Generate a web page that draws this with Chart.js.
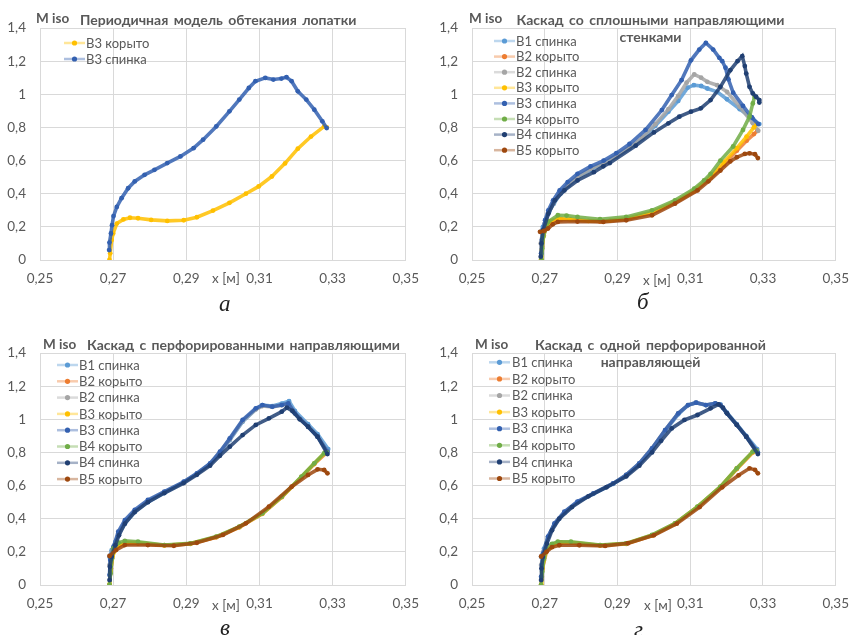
<!DOCTYPE html>
<html>
<head>
<meta charset="utf-8">
<script src="https://cdn.jsdelivr.net/npm/chart.js@4.4.1/dist/chart.umd.min.js"></script>
<style>
    body { margin: 0; background: #fff; width: 860px; height: 635px; position: relative; overflow: hidden; }
    canvas { position: absolute; }
    .txt { position: absolute; white-space: nowrap; color: #595959; font-family: Lato, "Open Sans", sans-serif; line-height: 17px; }
    .miso { font-weight: bold; font-size: 13.5px; }
    .title { font-weight: bold; font-size: 14px; word-spacing: 2px; }
    .center { text-align: center; }
    .xlab { font-size: 13.5px; }
    .cap { position: absolute; font-family: "Liberation Serif", "DejaVu Serif", serif; font-style: italic; font-size: 23px; color: #222; line-height: 24px; }
</style>
</head>
<body>

<canvas id="chartA" width="430" height="300" style="left:0;top:0"></canvas>
<canvas id="chartB" width="430" height="300" style="left:430px;top:0"></canvas>
<canvas id="chartV" width="430" height="305" style="left:0;top:320px"></canvas>
<canvas id="chartG" width="430" height="305" style="left:430px;top:320px"></canvas>

<div class="txt miso" style="left:36px;top:10px">M iso</div>
<div class="txt title" style="left:80px;top:11px">Периодичная модель обтекания лопатки</div>
<div class="txt miso" style="left:469px;top:10px">M iso</div>
<div class="txt title center" style="left:450px;width:401px;top:11px">Каскад со сплошными направляющими<br>стенками</div>
<div class="txt miso" style="left:43px;top:336px">M iso</div>
<div class="txt title" style="left:87px;top:336px">Каскад с перфорированными направляющими</div>
<div class="txt miso" style="left:475px;top:336px">M iso</div>
<div class="txt title center" style="left:450px;width:401px;top:336px">Каскад с одной перфорированной<br>направляющей</div>

<div class="txt xlab" style="left:212px;top:270px">x [м]</div>
<div class="txt xlab" style="left:643px;top:272px">x [м]</div>
<div class="txt xlab" style="left:212px;top:597px">x [м]</div>
<div class="txt xlab" style="left:644px;top:597px">x [м]</div>

<div class="cap" style="left:219px;top:292px">а</div>
<div class="cap" style="left:637px;top:290px">б</div>
<div class="cap" style="left:220px;top:616px">в</div>
<div class="cap" style="left:634px;top:618px">г</div>

<script>
// ---- tick labels ----
const xTickLabels = ["0,25", "0,27", "0,29", "0,31", "0,33", "0,35"];
const yTickLabels = ["0", "0,2", "0,4", "0,6", "0,8", "1", "1,2", "1,4"];

// ---- series names / colours ----
const namesA = ["В3 корыто", "В3 спинка"];
const colorsA = ["#ffc000", "#3360b0"];
const namesFull = ["В1 спинка", "В2 корыто", "В2 спинка", "В3 корыто", "В3 спинка", "В4 корыто", "В4 спинка", "В5 корыто"];
const colorsFull = ["#5b9bd5", "#ed7d31", "#a5a5a5", "#ffc000", "#3360b0", "#70ad47", "#203f72", "#9e480e"];

// ---- (а) periodic model: [x, Miso] ----
const aB3Korito = [[0.2690,0.00],[0.2692,0.04],[0.2696,0.12],[0.2700,0.16],[0.2710,0.22],[0.2728,0.245],[0.2746,0.255],[0.2768,0.252],[0.2804,0.242],[0.2848,0.236],[0.2893,0.240],[0.2929,0.258],[0.2973,0.298],[0.3018,0.345],[0.3063,0.400],[0.3098,0.444],[0.3134,0.504],[0.3170,0.583],[0.3205,0.672],[0.3241,0.745],[0.3277,0.806],[0.3284,0.80]];
const aB3Spinka = [[0.2689,0.06],[0.2690,0.105],[0.2694,0.16],[0.2697,0.21],[0.2701,0.265],[0.2710,0.32],[0.2723,0.373],[0.2741,0.433],[0.2759,0.474],[0.2786,0.514],[0.2813,0.544],[0.2848,0.585],[0.2884,0.625],[0.2920,0.675],[0.2946,0.726],[0.2982,0.806],[0.3018,0.897],[0.3045,0.968],[0.3071,1.038],[0.3089,1.079],[0.3116,1.099],[0.3138,1.089],[0.3160,1.095],[0.3174,1.103],[0.3188,1.079],[0.3205,1.018],[0.3228,0.968],[0.3250,0.907],[0.3272,0.837],[0.3284,0.796]];

// ---- (б) solid guide walls ----
const bB1Spinka = [[0.2689,0.17],[0.2695,0.20],[0.2702,0.24],[0.2712,0.29],[0.2725,0.34],[0.2743,0.40],[0.2765,0.45],[0.2792,0.50],[0.2826,0.545],[0.2862,0.58],[0.2897,0.625],[0.2933,0.675],[0.2969,0.735],[0.3004,0.81],[0.3040,0.895],[0.3067,0.96],[0.3093,1.04],[0.3110,1.055],[0.3130,1.05],[0.3147,1.035],[0.3174,1.015],[0.3201,0.97],[0.3236,0.91],[0.3272,0.85],[0.3290,0.82]];
const bB2Korito = [[0.2690,0.00],[0.2693,0.08],[0.2697,0.15],[0.2705,0.20],[0.2720,0.235],[0.2745,0.245],[0.2790,0.24],[0.2852,0.232],[0.2924,0.245],[0.2995,0.285],[0.3058,0.345],[0.3111,0.415],[0.3156,0.495],[0.3192,0.575],[0.3228,0.66],[0.3255,0.72],[0.3275,0.76],[0.3285,0.78]];
const bB2Spinka = [[0.2689,0.10],[0.2693,0.16],[0.2700,0.22],[0.2710,0.28],[0.2723,0.34],[0.2741,0.40],[0.2763,0.455],[0.2790,0.50],[0.2826,0.55],[0.2862,0.585],[0.2897,0.63],[0.2933,0.68],[0.2969,0.74],[0.3004,0.82],[0.3040,0.91],[0.3067,0.99],[0.3090,1.07],[0.3111,1.12],[0.3130,1.10],[0.3147,1.075],[0.3174,1.055],[0.3201,1.015],[0.3236,0.925],[0.3272,0.825],[0.3287,0.78]];
const bB3Korito = [[0.2690,0.00],[0.2692,0.06],[0.2696,0.14],[0.2703,0.20],[0.2715,0.235],[0.2736,0.25],[0.2770,0.245],[0.2820,0.236],[0.2880,0.238],[0.2924,0.25],[0.2995,0.29],[0.3058,0.35],[0.3111,0.42],[0.3156,0.505],[0.3192,0.59],[0.3228,0.675],[0.3255,0.745],[0.3275,0.80],[0.3283,0.82]];
const bB3Spinka = [[0.2690,0.04],[0.2692,0.12],[0.2695,0.18],[0.2701,0.24],[0.2710,0.30],[0.2723,0.36],[0.2741,0.42],[0.2763,0.47],[0.2790,0.52],[0.2826,0.565],[0.2862,0.60],[0.2897,0.645],[0.2933,0.70],[0.2977,0.785],[0.3022,0.905],[0.3049,0.995],[0.3076,1.085],[0.3102,1.205],[0.3125,1.27],[0.3143,1.31],[0.3163,1.27],[0.3180,1.22],[0.3188,1.20],[0.3197,1.16],[0.3205,1.09],[0.3218,1.01],[0.3245,0.93],[0.3270,0.86],[0.3287,0.82]];
const bB4Korito = [[0.2691,0.00],[0.2693,0.07],[0.2696,0.14],[0.2709,0.23],[0.2736,0.27],[0.2760,0.268],[0.2790,0.26],[0.2852,0.246],[0.2924,0.26],[0.2995,0.30],[0.3058,0.36],[0.3111,0.43],[0.3138,0.48],[0.3156,0.52],[0.3183,0.60],[0.3218,0.685],[0.3245,0.785],[0.3263,0.865],[0.3272,0.945],[0.3277,0.985]];
const bB4Spinka = [[0.2689,0.02],[0.2691,0.10],[0.2696,0.18],[0.2710,0.28],[0.2728,0.36],[0.2754,0.42],[0.2790,0.48],[0.2835,0.53],[0.2861,0.565],[0.2879,0.585],[0.2950,0.69],[0.3000,0.77],[0.3040,0.825],[0.3070,0.865],[0.3102,0.895],[0.3129,0.915],[0.3156,0.965],[0.3183,1.045],[0.3210,1.145],[0.3230,1.20],[0.3243,1.23],[0.3250,1.17],[0.3254,1.125],[0.3263,1.045],[0.3272,1.005],[0.3281,0.985],[0.3290,0.965],[0.3290,0.95]];
const bB5Korito = [[0.2687,0.17],[0.2698,0.175],[0.2709,0.19],[0.2722,0.215],[0.2736,0.23],[0.2790,0.232],[0.2861,0.23],[0.2924,0.24],[0.2995,0.27],[0.3058,0.34],[0.3120,0.42],[0.3150,0.475],[0.3183,0.54],[0.3210,0.595],[0.3228,0.62],[0.3250,0.64],[0.3263,0.644],[0.3278,0.638],[0.3286,0.615]];

// ---- (в) perforated guides ----
const vB1Spinka = [[0.2690,0.17],[0.2696,0.21],[0.2706,0.26],[0.2716,0.31],[0.2732,0.37],[0.2759,0.44],[0.2795,0.50],[0.2840,0.555],[0.2893,0.62],[0.2929,0.67],[0.2965,0.73],[0.2992,0.795],[0.3019,0.875],[0.3054,0.985],[0.3090,1.06],[0.3108,1.085],[0.3135,1.08],[0.3161,1.095],[0.3181,1.11],[0.3197,1.05],[0.3233,0.97],[0.3259,0.91],[0.3288,0.82]];
const vB2Korito = [[0.2690,0.00],[0.2694,0.10],[0.2701,0.20],[0.2716,0.24],[0.2740,0.252],[0.2768,0.25],[0.2840,0.238],[0.2911,0.248],[0.2982,0.288],[0.3045,0.348],[0.3108,0.43],[0.3161,0.53],[0.3215,0.65],[0.3250,0.73],[0.3282,0.795]];
const vB2Spinka = [[0.2690,0.12],[0.2697,0.20],[0.2714,0.31],[0.2732,0.38],[0.2759,0.445],[0.2795,0.505],[0.2840,0.56],[0.2893,0.62],[0.2929,0.67],[0.2965,0.73],[0.2992,0.80],[0.3019,0.88],[0.3054,0.99],[0.3090,1.06],[0.3108,1.08],[0.3135,1.075],[0.3161,1.085],[0.3179,1.095],[0.3197,1.035],[0.3233,0.955],[0.3259,0.895],[0.3286,0.805]];
const vB3Korito = [[0.2690,0.00],[0.2693,0.08],[0.2698,0.17],[0.2710,0.23],[0.2732,0.258],[0.2768,0.256],[0.2840,0.24],[0.2911,0.25],[0.2982,0.29],[0.3045,0.35],[0.3108,0.432],[0.3161,0.532],[0.3215,0.652],[0.3250,0.733],[0.3280,0.80]];
const vB3Spinka = [[0.2690,0.06],[0.2692,0.151],[0.2701,0.231],[0.2714,0.322],[0.2732,0.392],[0.2759,0.453],[0.2795,0.513],[0.2840,0.563],[0.2893,0.623],[0.2929,0.674],[0.2965,0.734],[0.2992,0.804],[0.3019,0.885],[0.3054,0.996],[0.3090,1.066],[0.3108,1.086],[0.3135,1.076],[0.3161,1.086],[0.3179,1.096],[0.3197,1.036],[0.3233,0.955],[0.3259,0.895],[0.3286,0.804]];
const vB4Korito = [[0.2690,0.00],[0.2693,0.07],[0.2697,0.16],[0.2701,0.221],[0.2715,0.255],[0.2732,0.266],[0.2768,0.261],[0.2840,0.241],[0.2911,0.251],[0.2982,0.292],[0.3045,0.352],[0.3108,0.433],[0.3161,0.533],[0.3215,0.654],[0.3250,0.734],[0.3277,0.795],[0.3284,0.80]];
const vB4Spinka = [[0.2690,0.03],[0.2691,0.11],[0.2696,0.17],[0.2706,0.24],[0.2716,0.30],[0.2732,0.37],[0.2759,0.44],[0.2795,0.50],[0.2840,0.555],[0.2893,0.615],[0.2929,0.665],[0.2965,0.72],[0.2992,0.78],[0.3019,0.835],[0.3054,0.905],[0.3090,0.966],[0.3126,1.006],[0.3161,1.046],[0.3175,1.07],[0.3190,1.05],[0.3210,1.00],[0.3233,0.955],[0.3259,0.895],[0.3286,0.79]];
const vB5Korito = [[0.2690,0.175],[0.2708,0.211],[0.2732,0.241],[0.2795,0.241],[0.2866,0.237],[0.2929,0.255],[0.3000,0.302],[0.3063,0.372],[0.3126,0.473],[0.3188,0.593],[0.3233,0.664],[0.3259,0.698],[0.3277,0.694],[0.3286,0.674]];

// ---- (г) one perforated guide ----
const gB1Spinka = [[0.2690,0.17],[0.2698,0.22],[0.2709,0.29],[0.2727,0.365],[0.2754,0.435],[0.2790,0.50],[0.2834,0.55],[0.2888,0.61],[0.2924,0.66],[0.2960,0.73],[0.2995,0.82],[0.3031,0.93],[0.3067,1.03],[0.3094,1.085],[0.3116,1.10],[0.3143,1.085],[0.3169,1.095],[0.3183,1.09],[0.3201,1.04],[0.3228,0.97],[0.3254,0.90],[0.3284,0.82]];
const gB2Korito = [[0.2690,0.00],[0.2694,0.10],[0.2705,0.205],[0.2720,0.245],[0.2745,0.255],[0.2790,0.25],[0.2852,0.238],[0.2924,0.248],[0.2995,0.298],[0.3058,0.368],[0.3120,0.47],[0.3183,0.59],[0.3228,0.70],[0.3272,0.80],[0.3282,0.81]];
const gB2Spinka = [[0.2690,0.12],[0.2697,0.20],[0.2709,0.29],[0.2727,0.37],[0.2754,0.44],[0.2790,0.50],[0.2834,0.553],[0.2888,0.613],[0.2924,0.664],[0.2960,0.734],[0.2995,0.825],[0.3031,0.935],[0.3067,1.036],[0.3094,1.086],[0.3116,1.10],[0.3143,1.086],[0.3169,1.096],[0.3183,1.086],[0.3201,1.036],[0.3228,0.966],[0.3254,0.895],[0.3282,0.81]];
const gB3Korito = [[0.2690,0.00],[0.2692,0.05],[0.2697,0.15],[0.2705,0.21],[0.2736,0.258],[0.2772,0.258],[0.2852,0.24],[0.2924,0.25],[0.2995,0.30],[0.3058,0.37],[0.3120,0.472],[0.3183,0.592],[0.3228,0.703],[0.3272,0.803],[0.3280,0.81]];
const gB3Spinka = [[0.2690,0.05],[0.2692,0.12],[0.2696,0.191],[0.2709,0.292],[0.2727,0.372],[0.2754,0.442],[0.2790,0.503],[0.2834,0.553],[0.2888,0.613],[0.2924,0.664],[0.2960,0.734],[0.2995,0.825],[0.3031,0.935],[0.3067,1.036],[0.3094,1.086],[0.3116,1.10],[0.3143,1.086],[0.3169,1.096],[0.3183,1.086],[0.3201,1.036],[0.3228,0.966],[0.3254,0.895],[0.3281,0.815],[0.3286,0.80]];
const gB4Korito = [[0.2690,0.00],[0.2693,0.08],[0.2698,0.16],[0.2705,0.211],[0.2720,0.248],[0.2736,0.261],[0.2772,0.261],[0.2852,0.241],[0.2924,0.251],[0.2995,0.302],[0.3058,0.372],[0.3120,0.473],[0.3183,0.593],[0.3228,0.704],[0.3272,0.805],[0.3282,0.81]];
const gB4Spinka = [[0.2690,0.03],[0.2691,0.10],[0.2695,0.17],[0.2706,0.25],[0.2720,0.33],[0.2740,0.40],[0.2775,0.47],[0.2820,0.535],[0.2870,0.59],[0.2924,0.655],[0.2960,0.72],[0.2995,0.80],[0.3020,0.87],[0.3049,0.945],[0.3084,0.996],[0.3120,1.026],[0.3156,1.066],[0.3178,1.09],[0.3190,1.07],[0.3201,1.036],[0.3228,0.966],[0.3254,0.895],[0.3286,0.79]];
const gB5Korito = [[0.2690,0.172],[0.2705,0.20],[0.2720,0.228],[0.2740,0.24],[0.2795,0.24],[0.2866,0.236],[0.2929,0.252],[0.3000,0.30],[0.3063,0.37],[0.3126,0.47],[0.3188,0.59],[0.3233,0.662],[0.3263,0.704],[0.3278,0.695],[0.3286,0.674]];

Chart.defaults.font.family = "Lato, 'Open Sans', sans-serif";
Chart.defaults.color = "#595959";

// Legend drawn inside the plot area, Excel style: pale line with a solid dot.
const insideLegend = {
    id: "insideLegend",
    afterDatasetsDraw(chart, args, opts) {
        const { ctx, chartArea } = chart;
        ctx.save();
        ctx.font = opts.fontSize + "px Lato, 'Open Sans', sans-serif";
        ctx.textBaseline = "middle";
        chart.data.datasets.forEach((ds, i) => {
            const x = chartArea.left + opts.dx;
            const y = chartArea.top + opts.dy + i * opts.step;
            ctx.strokeStyle = ds.pointBackgroundColor + "66";
            ctx.lineWidth = 2.5;
            ctx.beginPath();
            ctx.moveTo(x, y);
            ctx.lineTo(x + 21, y);
            ctx.stroke();
            ctx.fillStyle = ds.pointBackgroundColor;
            ctx.beginPath();
            ctx.arc(x + 10.5, y, 2.6, 0, Math.PI * 2);
            ctx.fill();
            ctx.fillStyle = "#595959";
            ctx.fillText(ds.label, x + opts.textGap, y + 0.5);
        });
        ctx.restore();
    }
};

function toPoints(pairs) {
    return pairs.map(p => ({ x: p[0], y: p[1] }));
}

function makeChart(canvasId, names, colors, series, box, legend) {
    const n = names.length;
    return new Chart(document.getElementById(canvasId), {
        type: "scatter",
        data: {
            datasets: series.map((s, i) => ({
                label: names[i],
                data: toPoints(s),
                showLine: true,
                borderColor: colors[i] + "d9",
                borderWidth: 3.6,
                pointRadius: 2.4,
                pointBorderWidth: 0,
                pointBackgroundColor: colors[i],
                tension: 0,
                order: n - 1 - i
            }))
        },
        options: {
            responsive: false,
            animation: false,
            layout: { padding: { left: 0, top: box.top, right: box.right, bottom: box.bottom } },
            plugins: {
                legend: { display: false },
                tooltip: { enabled: false },
                insideLegend: legend
            },
            scales: {
                x: {
                    type: "linear", min: 0.25, max: 0.35,
                    afterFit: s => { s.height = 30; },
                    grid: { color: "#d9d9d9", drawTicks: false },
                    border: { color: "#d9d9d9" },
                    ticks: { stepSize: 0.02, padding: 11, font: { size: 13.5 }, callback: (v, i) => xTickLabels[i] }
                },
                y: {
                    min: 0, max: 1.4,
                    afterFit: s => { s.width = box.yw; },
                    grid: { color: "#d9d9d9", drawTicks: false },
                    border: { color: "#d9d9d9" },
                    ticks: { stepSize: 0.2, padding: 14, font: { size: 13.5 }, callback: (v, i) => yTickLabels[i] }
                }
            }
        },
        plugins: [insideLegend]
    });
}

makeChart("chartA", namesA, colorsA, [aB3Korito, aB3Spinka],
    { top: 28, right: 17, bottom: 10, yw: 40 },
    { dx: 24, dy: 15, step: 16, textGap: 22, fontSize: 13 });

makeChart("chartB", namesFull, colorsFull,
    [bB1Spinka, bB2Korito, bB2Spinka, bB3Korito, bB3Spinka, bB4Korito, bB4Spinka, bB5Korito],
    { top: 28, right: 15, bottom: 10, yw: 42 },
    { dx: 22, dy: 13, step: 15.6, textGap: 22, fontSize: 13 });

makeChart("chartV", namesFull, colorsFull,
    [vB1Spinka, vB2Korito, vB2Spinka, vB3Korito, vB3Spinka, vB4Korito, vB4Spinka, vB5Korito],
    { top: 33, right: 17, bottom: 10, yw: 40 },
    { dx: 17, dy: 12, step: 16.3, textGap: 22, fontSize: 13 });

makeChart("chartG", namesFull, colorsFull,
    [gB1Spinka, gB2Korito, gB2Spinka, gB3Korito, gB3Spinka, gB4Korito, gB4Spinka, gB5Korito],
    { top: 33, right: 15, bottom: 10, yw: 42 },
    { dx: 17, dy: 9.3, step: 16.6, textGap: 23, fontSize: 13 });
</script>
</body>
</html>
